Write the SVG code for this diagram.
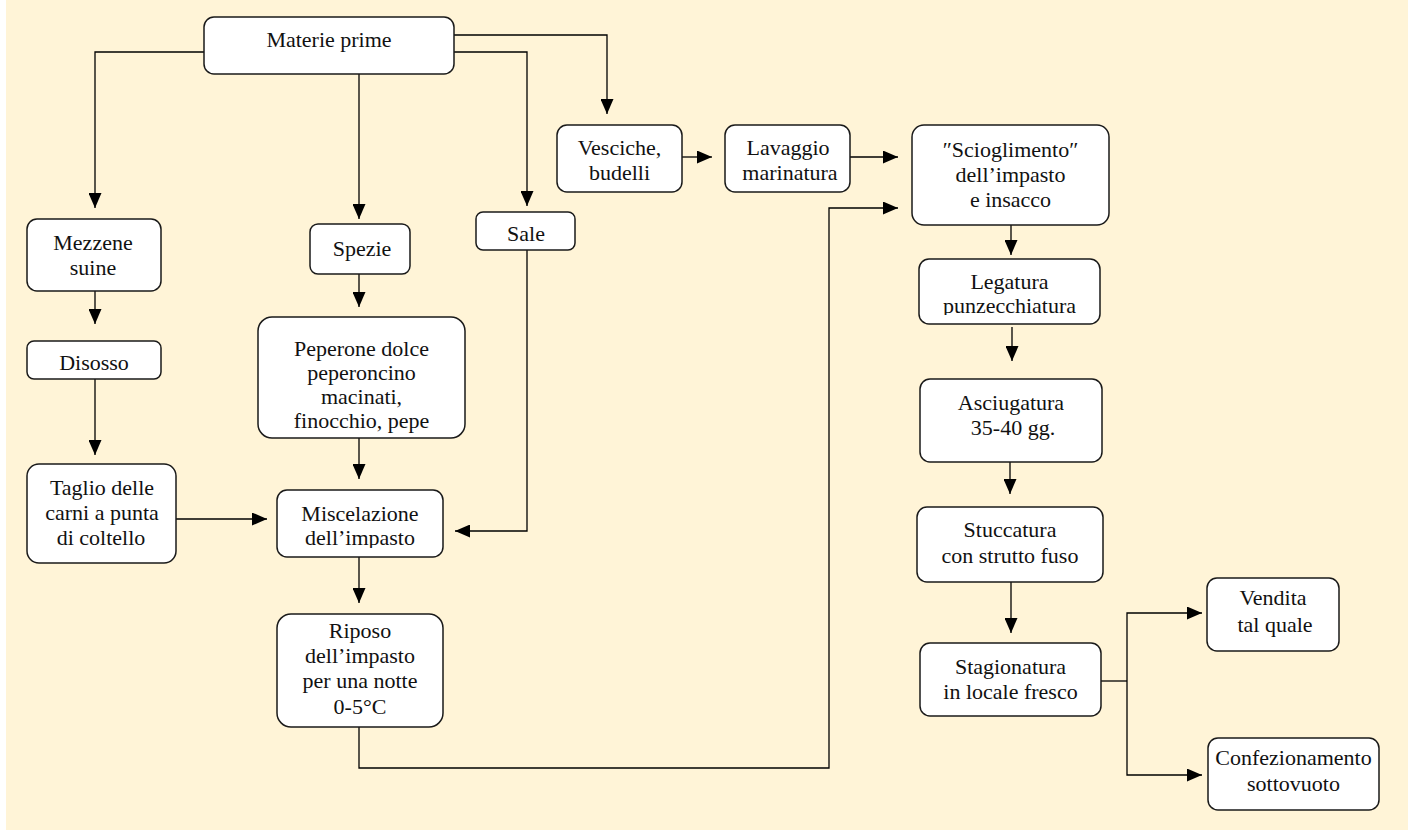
<svg xmlns="http://www.w3.org/2000/svg" width="1408" height="831" viewBox="0 0 1408 831">
<style>
.box{fill:#fff;stroke:#1a1a1a;stroke-width:1.5}
.t{font-family:"Liberation Serif","Times New Roman",serif;font-size:22px;fill:#111;text-anchor:middle}
.c{fill:none;stroke:#000;stroke-width:1.3}
</style>
<defs>
<marker id="ah" markerWidth="15" markerHeight="13" refX="15" refY="6.5" orient="auto" markerUnits="userSpaceOnUse">
<path d="M0,0 L15,6.5 L0,13 z" fill="#000"/>
</marker>
<clipPath id="clipMisc"><rect x="277" y="490" width="166" height="58"/></clipPath>
<clipPath id="clipLeg"><rect x="919" y="259" width="181" height="56"/></clipPath>
</defs>
<rect x="0" y="0" width="1408" height="831" fill="#fff"/>
<rect x="6" y="0" width="1402" height="830" fill="#FFF4D7"/>

<g id="connectors">
<path class="c" d="M204,52 H95 V208" marker-end="url(#ah)"/>
<path class="c" d="M359,74 V219" marker-end="url(#ah)"/>
<path class="c" d="M454,35 H607 V114" marker-end="url(#ah)"/>
<path class="c" d="M454,52 H527 V206" marker-end="url(#ah)"/>
<path class="c" d="M95,291 V324" marker-end="url(#ah)"/>
<path class="c" d="M95,379 V455" marker-end="url(#ah)"/>
<path class="c" d="M359,274 V307" marker-end="url(#ah)"/>
<path class="c" d="M359,438 V479" marker-end="url(#ah)"/>
<path class="c" d="M176,519 H267" marker-end="url(#ah)"/>
<path class="c" d="M527,250 V531 H455" marker-end="url(#ah)"/>
<path class="c" d="M359,557 V603" marker-end="url(#ah)"/>
<path class="c" d="M359,727 V768 H829 V208 H898" marker-end="url(#ah)"/>
<path class="c" d="M682,157 H712" marker-end="url(#ah)"/>
<path class="c" d="M850,157 H898" marker-end="url(#ah)"/>
<path class="c" d="M1011,225 V255" marker-end="url(#ah)"/>
<path class="c" d="M1012,327 V361" marker-end="url(#ah)"/>
<path class="c" d="M1010,462 V494" marker-end="url(#ah)"/>
<path class="c" d="M1011,582 V633" marker-end="url(#ah)"/>
<path class="c" d="M1101,681 H1127"/>
<path class="c" d="M1127,681 V613 H1202" marker-end="url(#ah)"/>
<path class="c" d="M1127,681 V775 H1202" marker-end="url(#ah)"/>
</g>

<g id="materie"><rect class="box" x="204" y="17" width="250" height="57" rx="10"/><text class="t" x="329" y="47">Materie prime</text></g>
<g id="vesciche"><rect class="box" x="557" y="125" width="125" height="67" rx="10"/><text class="t" x="619.5" y="155">Vesciche,</text><text class="t" x="619.5" y="180">budelli</text></g>
<g id="lavaggio"><rect class="box" x="725" y="125" width="125" height="67" rx="10"/><text class="t" x="788" y="155">Lavaggio</text><text class="t" x="790" y="180">marinatura</text></g>
<g id="scioglimento"><rect class="box" x="912" y="125" width="197" height="100" rx="12"/><text class="t" x="1010.5" y="157">″Scioglimento″</text><text class="t" x="1010.5" y="182">dell’impasto</text><text class="t" x="1010.5" y="207">e insacco</text></g>
<g id="mezzene"><rect class="box" x="27" y="219" width="134" height="72" rx="10"/><text class="t" x="93" y="250">Mezzene</text><text class="t" x="93" y="275">suine</text></g>
<g id="spezie"><rect class="box" x="310" y="224" width="100" height="50" rx="8"/><text class="t" x="362" y="256">Spezie</text></g>
<g id="sale"><rect class="box" x="476" y="212" width="99" height="38" rx="7"/><text class="t" x="526" y="241">Sale</text></g>
<g id="disosso"><rect class="box" x="27" y="341" width="134" height="38" rx="7"/><text class="t" x="94" y="370">Disosso</text></g>
<g id="peperone"><rect class="box" x="258" y="317" width="207" height="121" rx="14"/><text class="t" x="361.5" y="356">Peperone dolce</text><text class="t" x="361.5" y="380">peperoncino</text><text class="t" x="361.5" y="404">macinati,</text><text class="t" x="361.5" y="428">finocchio, pepe</text></g>
<g id="taglio"><rect class="box" x="27" y="464" width="149" height="99" rx="12"/><text class="t" x="102" y="495">Taglio delle</text><text class="t" x="102" y="520">carni a punta</text><text class="t" x="101" y="545">di coltello</text></g>
<g id="miscelazione"><rect class="box" x="277" y="490" width="166" height="67" rx="10"/><text class="t" x="360" y="521">Miscelazione</text><text class="t" x="360" y="545" clip-path="url(#clipMisc)">dell’impasto</text></g>
<g id="riposo"><rect class="box" x="277" y="614" width="166" height="113" rx="14"/><text class="t" x="360" y="638">Riposo</text><text class="t" x="360" y="663">dell’impasto</text><text class="t" x="360" y="688">per una notte</text><text class="t" x="360" y="714">0-5°C</text></g>
<g id="legatura"><rect class="box" x="919" y="259" width="181" height="65" rx="10"/><text class="t" x="1009.5" y="289">Legatura</text><text class="t" x="1009.5" y="313" clip-path="url(#clipLeg)">punzecchiatura</text></g>
<g id="asciugatura"><rect class="box" x="920" y="379" width="182" height="83" rx="10"/><text class="t" x="1011" y="410">Asciugatura</text><text class="t" x="1013" y="435">35-40 gg.</text></g>
<g id="stuccatura"><rect class="box" x="917" y="507" width="186" height="75" rx="10"/><text class="t" x="1010" y="537">Stuccatura</text><text class="t" x="1010" y="563">con strutto fuso</text></g>
<g id="stagionatura"><rect class="box" x="920" y="643" width="181" height="73" rx="10"/><text class="t" x="1010.5" y="674">Stagionatura</text><text class="t" x="1010.5" y="699">in locale fresco</text></g>
<g id="vendita"><rect class="box" x="1207" y="578" width="132" height="73" rx="10"/><text class="t" x="1273" y="605">Vendita</text><text class="t" x="1275" y="632">tal quale</text></g>
<g id="confezionamento"><rect class="box" x="1208" y="738" width="171" height="72" rx="10"/><text class="t" x="1293.5" y="765">Confezionamento</text><text class="t" x="1293.5" y="791">sottovuoto</text></g>
</svg>
